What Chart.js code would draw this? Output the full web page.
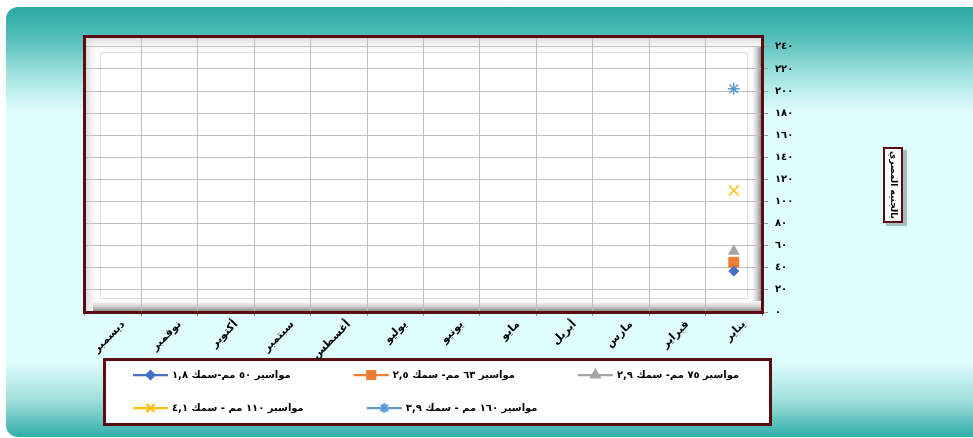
<!DOCTYPE html>
<html lang="ar">
<head>
<meta charset="utf-8">
<script src="https://cdn.jsdelivr.net/npm/chart.js@4.4.0/dist/chart.umd.min.js"></script>
<style>
  html, body { margin: 0; padding: 0; background: #fff; }
  #wrap { position: relative; width: 973px; height: 438px; overflow: hidden; }
  #panel {
    position: absolute; left: 6px; top: 7px; width: 985px; height: 430px; border-radius: 12px;
    background: linear-gradient(to bottom, #2aa7a2 0px, #52beb9 30px, #a5e3e0 70px, #e0fdfd 105px,
      #e0fdfd 355px, #9cdcd9 395px, #30aea9 430px);
  }
  canvas { position: absolute; left: 0; top: 0; }
</style>
</head>
<body>
<div id="wrap">
  <div id="panel"></div>
  <canvas id="lineChart" width="973" height="438"></canvas>
</div>
<script>
// ---------------- Data ----------------
const months = ["يناير", "فبراير", "مارس", "أبريل", "مايو", "يونيو",
  "يوليو", "أغسطس", "سبتمبر", "أكتوبر", "نوفمبر", "ديسمبر"];
const yTickLabels = ["٠", "٢٠", "٤٠", "٦٠", "٨٠", "١٠٠", "١٢٠", "١٤٠", "١٦٠", "١٨٠", "٢٠٠", "٢٢٠", "٢٤٠"];
const seriesNames = [
  "مواسير ٥٠ مم-سمك ١,٨",
  "مواسير ٦٣ مم- سمك ٢,٥",
  "مواسير ٧٥ مم- سمك ٢,٩",
  "مواسير ١١٠ مم - سمك ٤,١",
  "مواسير ١٦٠ مم - سمك ٣,٩"
];
const pipe50 = [37, null, null, null, null, null, null, null, null, null, null, null];
const pipe63 = [45, null, null, null, null, null, null, null, null, null, null, null];
const pipe75 = [55, null, null, null, null, null, null, null, null, null, null, null];
const pipe110 = [110, null, null, null, null, null, null, null, null, null, null, null];
const pipe160 = [202, null, null, null, null, null, null, null, null, null, null, null];
const yAxisTitle = "بالجنيه المصري";

const FONT = "'DejaVu Sans', sans-serif";
const MAROON = "#5a0c10";
const LEG_BOX = 76;

// ---------------- Plugins ----------------
const framePlugin = {
  id: "frame",
  beforeDraw(chart) {
    const { ctx, chartArea: ca } = chart;
    const w = ca.right - ca.left, h = ca.bottom - ca.top;
    ctx.save();
    // legend box
    ctx.fillStyle = "#fff";
    ctx.fillRect(104, 359, 667, 66);
    ctx.strokeStyle = MAROON;
    ctx.lineWidth = 3;
    ctx.strokeRect(104.5, 359.5, 666, 65);

    // plot area with bevel
    ctx.fillStyle = "#fff";
    ctx.fillRect(ca.left, ca.top, w, h);
    let g = ctx.createLinearGradient(ca.left, 0, ca.left + 15, 0);
    g.addColorStop(0, "#d6d6d6"); g.addColorStop(1, "rgba(255,255,255,0)");
    ctx.fillStyle = g; ctx.fillRect(ca.left, ca.top, 15, h);
    g = ctx.createLinearGradient(0, ca.top, 0, ca.top + 13);
    g.addColorStop(0, "#d6d6d6"); g.addColorStop(1, "rgba(255,255,255,0)");
    ctx.fillStyle = g; ctx.fillRect(ca.left, ca.top, w, 13);
    g = ctx.createLinearGradient(ca.right - 10, 0, ca.right, 0);
    g.addColorStop(0, "#ffffff"); g.addColorStop(0.5, "#cfcfcf"); g.addColorStop(1, "#7c7c7c");
    ctx.fillStyle = g; ctx.fillRect(ca.right - 10, ca.top + 8, 10, h - 8);
    g = ctx.createLinearGradient(0, ca.bottom - 11, 0, ca.bottom);
    g.addColorStop(0, "#ffffff"); g.addColorStop(0.5, "#cfcfcf"); g.addColorStop(1, "#7c7c7c");
    ctx.fillStyle = g; ctx.fillRect(ca.left + 8, ca.bottom - 11, w - 8, 11);
    ctx.strokeStyle = "#dedede";
    ctx.lineWidth = 1;
    ctx.strokeRect(ca.left + 15.5, ca.top + 14.5, w - 30, h - 28);
    ctx.restore();
  },
  afterDraw(chart) {
    const { ctx, chartArea: ca } = chart;
    ctx.save();
    // plot frame
    ctx.strokeStyle = MAROON;
    ctx.lineWidth = 3;
    ctx.strokeRect(ca.left - 0.5, ca.top - 1.5, ca.right - ca.left + 1, ca.bottom - ca.top + 2);

    // y axis title box
    ctx.fillStyle = "rgba(0,0,0,0.25)";
    ctx.fillRect(886, 150, 21, 76);
    ctx.fillStyle = "#fff";
    ctx.fillRect(883, 147, 20, 76);
    ctx.strokeStyle = MAROON;
    ctx.lineWidth = 2;
    ctx.strokeRect(884, 148, 18, 74);
    ctx.translate(893, 185);
    ctx.rotate(Math.PI / 2);
    ctx.fillStyle = "#000";
    ctx.font = "bold 9px " + FONT;
    ctx.textAlign = "center";
    ctx.textBaseline = "middle";
    ctx.fillText(yAxisTitle, 0, 0);
    ctx.restore();

    // legend line + marker glyphs
    const lg = chart.legend;
    const drawPoint = Chart.helpers && Chart.helpers.drawPoint;
    lg.legendHitBoxes.forEach((hb, i) => {
      const ds = chart.data.datasets[i];
      const y = hb.top + hb.height / 2;
      const x2 = hb.left + LEG_BOX + 1, x1 = x2 - 35;
      ctx.save();
      ctx.strokeStyle = ds.borderColor;
      ctx.fillStyle = ds.borderColor;
      ctx.lineWidth = 2.25;
      ctx.beginPath(); ctx.moveTo(x1, y); ctx.lineTo(x2, y); ctx.stroke();
      if (drawPoint) {
        drawPoint(ctx, { pointStyle: ds.pointStyle, radius: ds.pointRadius * 0.8, borderWidth: ds.pointBorderWidth, rotation: 0 }, (x1 + x2) / 2, y);
      }
      ctx.restore();
    });
  },
  afterLayout(chart) {
    const lg = chart.legend;
    lg.left = 172 - 21 - LEG_BOX - 5;
    lg.right = lg.left + lg.width;
    lg.top = 348;
    lg.bottom = lg.top + lg.height;
  }
};

// ---------------- Chart ----------------
function makeSet(label, data, color, style, radius, bw) {
  return {
    label, data,
    borderColor: color, backgroundColor: color,
    pointStyle: style, pointRadius: radius, pointHoverRadius: radius,
    pointBackgroundColor: color, pointBorderColor: color, pointBorderWidth: bw,
    borderWidth: 2.25
  };
}

document.addEventListener("DOMContentLoaded", () => {
  const ctx = document.getElementById("lineChart").getContext("2d");
  new Chart(ctx, {
    type: "line",
    data: {
      labels: months,
      datasets: [
        makeSet(seriesNames[0], pipe50, "#4472C4", "rectRot", 5, 1),
        makeSet(seriesNames[1], pipe63, "#ED7D31", "rect", 7, 1),
        makeSet(seriesNames[2], pipe75, "#A5A5A5", "triangle", 6, 1),
        makeSet(seriesNames[3], pipe110, "#FFC000", "crossRot", 7, 1.5),
        makeSet(seriesNames[4], pipe160, "#5B9BD5", "star", 6, 1.5)
      ]
    },
    options: {
      responsive: false,
      animation: false,
      layout: { padding: { left: 85, top: 38, right: 60, bottom: 0 } },
      plugins: {
        legend: {
          position: "bottom",
          align: "start",
          labels: {
            boxWidth: LEG_BOX,
            boxHeight: 12,
            padding: 21,
            color: "#000",
            font: { family: FONT, size: 10, weight: "bold" },
            generateLabels: (chart) => chart.data.datasets.map((ds, i) => ({
              text: ds.label,
              fillStyle: "rgba(0,0,0,0)",
              strokeStyle: "rgba(0,0,0,0)",
              lineWidth: 0,
              datasetIndex: i,
              hidden: false
            }))
          }
        },
        tooltip: { enabled: false }
      },
      scales: {
        x: {
          reverse: true,
          offset: true,
          grid: { offset: true, color: "#bfbfbf", tickLength: 4, tickColor: "#9a9a9a" },
          border: { display: false },
          ticks: {
            color: "#000",
            font: { family: FONT, size: 11, weight: "bold" },
            maxRotation: 45, minRotation: 45,
            labelOffset: 10, padding: 2, autoSkip: false
          },
          afterFit: (s) => { s.height = 438 - 312 - s.chart.legend.height; }
        },
        y: {
          position: "right",
          min: 0, max: 248,
          grid: { color: "#bfbfbf", tickLength: 6, tickColor: "#9a9a9a" },
          border: { display: false },
          ticks: {
            padding: 7,
            color: "#000",
            font: { family: FONT, size: 10, weight: "bold" },
            callback: (v) => yTickLabels[Math.round(v / 20)]
          },
          afterBuildTicks: (s) => { s.ticks = yTickLabels.map((t, i) => ({ value: i * 20 })); },
          afterFit: (s) => { s.width = 973 - 60 - 762; }
        }
      }
    },
    plugins: [framePlugin]
  });
});
</script>
</body>
</html>
